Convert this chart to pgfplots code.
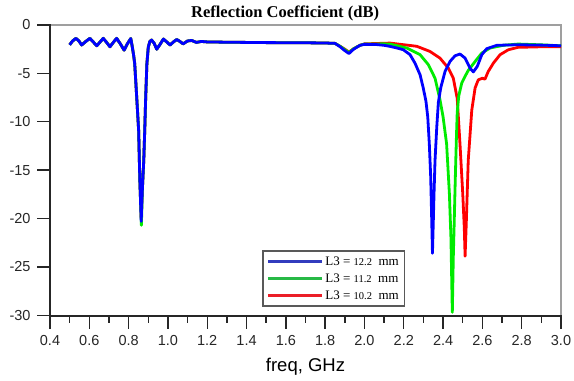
\documentclass[border=0pt]{standalone}
\usepackage{pgfplots}
\pgfplotsset{compat=1.18}
\usepackage{pgfplotstable}
\usetikzlibrary{calc}
\usepackage{fontspec}
\setmainfont{Liberation Sans}
\newfontfamily\timesfont{Liberation Serif}
\definecolor{cblue}{RGB}{0,0,255}
\definecolor{cgreen}{RGB}{0,235,0}
\definecolor{cred}{RGB}{255,0,0}
\definecolor{lblue}{RGB}{50,60,190}
\definecolor{lgreen}{RGB}{40,185,70}
\definecolor{lred}{RGB}{235,30,40}

\pgfplotstableread{
f s
0.500 -2.05
0.515 -1.65
0.532 -1.38
0.547 -1.65
0.561 -2.07
0.582 -1.70
0.603 -1.38
0.620 -1.75
0.638 -2.15
0.655 -1.75
0.671 -1.38
0.688 -1.80
0.705 -2.25
0.722 -1.80
0.739 -1.38
0.758 -1.95
0.777 -2.60
0.795 -1.90
0.811 -1.40
0.819 -2.30
0.826 -3.20
0.831 -4.00
0.841 -7.40
0.851 -10.9
0.857 -16.0
0.864 -20.0
0.870 -17.0
0.877 -14.0
0.882 -10.9
0.887 -7.40
0.893 -4.00
0.900 -2.30
0.908 -1.70
0.917 -1.55
0.930 -1.90
0.943 -2.50
0.960 -2.00
0.977 -1.45
0.994 -1.75
1.011 -2.07
1.028 -1.75
1.045 -1.50
1.061 -1.70
1.077 -1.95
1.100 -1.65
1.121 -1.60
1.145 -1.80
1.170 -1.70
1.200 -1.75
1.300 -1.78
1.400 -1.80
1.500 -1.82
1.600 -1.83
1.700 -1.84
1.800 -1.86
1.850 -1.90
1.876 -2.20
1.900 -2.50
1.921 -2.80
1.945 -2.45
1.977 -2.10
2.000 -1.95
2.130 -1.87
2.266 -2.20
2.333 -2.73
2.384 -3.42
2.427 -4.46
2.452 -5.50
2.472 -7.60
2.486 -12.3
2.500 -17.4
2.508 -21.0
2.512 -23.9
2.518 -20.5
2.528 -14.0
2.546 -8.80
2.563 -6.50
2.579 -5.67
2.600 -5.50
2.613 -5.60
2.630 -4.80
2.656 -3.94
2.690 -3.07
2.732 -2.56
2.781 -2.31
2.900 -2.25
3.000 -2.25
}\redtab

\pgfplotstableread{
f s
0.500 -2.05
0.515 -1.65
0.532 -1.38
0.547 -1.65
0.561 -2.07
0.582 -1.70
0.603 -1.38
0.620 -1.75
0.638 -2.15
0.655 -1.75
0.671 -1.38
0.688 -1.80
0.705 -2.25
0.722 -1.80
0.739 -1.38
0.758 -1.95
0.777 -2.60
0.795 -1.90
0.811 -1.40
0.819 -2.30
0.826 -3.20
0.831 -4.00
0.841 -7.40
0.851 -10.9
0.857 -16.0
0.865 -20.7
0.870 -17.0
0.877 -14.0
0.882 -10.9
0.887 -7.40
0.893 -4.00
0.900 -2.30
0.908 -1.70
0.917 -1.55
0.930 -1.90
0.943 -2.50
0.960 -2.00
0.977 -1.45
0.994 -1.75
1.011 -2.07
1.028 -1.75
1.045 -1.50
1.061 -1.70
1.077 -1.95
1.100 -1.65
1.121 -1.60
1.145 -1.80
1.170 -1.70
1.200 -1.75
1.300 -1.78
1.400 -1.80
1.500 -1.82
1.600 -1.83
1.700 -1.84
1.800 -1.86
1.850 -1.90
1.876 -2.20
1.900 -2.55
1.921 -2.85
1.945 -2.45
1.977 -2.10
2.000 -1.97
2.100 -1.95
2.130 -1.97
2.215 -2.38
2.283 -3.07
2.325 -4.10
2.359 -5.50
2.384 -7.70
2.400 -9.50
2.418 -12.3
2.432 -17.4
2.440 -22.0
2.447 -29.7
2.452 -24.0
2.456 -20.9
2.462 -16.0
2.468 -11.5
2.472 -9.00
2.480 -7.30
2.495 -6.00
2.512 -5.30
2.528 -4.70
2.563 -3.77
2.597 -2.90
2.639 -2.38
2.706 -2.10
2.781 -1.97
2.900 -2.05
3.000 -2.15
}\greentab

\pgfplotstableread{
f s
0.500 -2.05
0.515 -1.65
0.532 -1.38
0.547 -1.65
0.561 -2.07
0.582 -1.70
0.603 -1.38
0.620 -1.75
0.638 -2.15
0.655 -1.75
0.671 -1.38
0.688 -1.80
0.705 -2.25
0.722 -1.80
0.739 -1.38
0.758 -1.95
0.777 -2.60
0.795 -1.90
0.811 -1.40
0.819 -2.30
0.826 -3.20
0.831 -4.00
0.841 -7.40
0.851 -10.9
0.857 -16.0
0.864 -20.3
0.870 -17.0
0.877 -14.0
0.882 -10.9
0.887 -7.40
0.893 -4.00
0.900 -2.30
0.908 -1.70
0.917 -1.55
0.930 -1.90
0.943 -2.50
0.960 -2.00
0.977 -1.45
0.994 -1.75
1.011 -2.07
1.028 -1.75
1.045 -1.50
1.061 -1.70
1.077 -1.95
1.100 -1.65
1.121 -1.60
1.145 -1.80
1.170 -1.70
1.200 -1.75
1.300 -1.78
1.400 -1.80
1.500 -1.82
1.600 -1.83
1.700 -1.84
1.800 -1.86
1.850 -1.90
1.876 -2.25
1.900 -2.65
1.921 -2.95
1.945 -2.50
1.977 -2.10
2.000 -2.00
2.060 -2.02
2.100 -2.10
2.130 -2.21
2.170 -2.40
2.198 -2.56
2.232 -3.07
2.257 -3.94
2.283 -5.15
2.299 -6.50
2.313 -7.90
2.322 -9.50
2.330 -12.3
2.337 -15.7
2.342 -20.0
2.346 -23.6
2.350 -20.5
2.354 -17.4
2.359 -14.0
2.368 -10.5
2.376 -8.00
2.388 -6.50
2.410 -4.80
2.435 -3.77
2.461 -3.18
2.486 -3.00
2.512 -3.42
2.537 -4.46
2.554 -4.85
2.574 -4.28
2.597 -3.07
2.622 -2.45
2.673 -2.10
2.781 -2.04
2.900 -2.08
3.000 -2.15
}\bluetab

\begin{document}
\begin{tikzpicture}
\begin{axis}[
  scale only axis,
  width=511pt, height=291pt,
  xmin=0.4, xmax=3.0, ymin=-30.08, ymax=0,
  axis line style={gray!75, line width=1.3pt},
  xtick pos=left, ytick pos=left,
  xtick={0.4,0.6,0.8,1.0,1.2,1.4,1.6,1.8,2.0,2.2,2.4,2.6,2.8,3.0},
  xticklabels={0.4,0.6,0.8,1.0,1.2,1.4,1.6,1.8,2.0,2.2,2.4,2.6,2.8,3.0},
  ytick={-30,-25,-20,-15,-10,-5,0},
  yticklabels={-30,-25,-20,-15,-10,-5,0},
  major tick length=0pt, minor tick length=0pt,
  tick label style={font=\fontsize{14.5}{16}\selectfont, text=black!85},
  xticklabel style={anchor=base, yshift=-29pt},
  yticklabel style={anchor=east, xshift=-16pt},
  xlabel={freq, GHz},
  xlabel style={font=\fontsize{18.5}{20}\selectfont, at={(axis description cs:0.5,0)}, anchor=base, yshift=-55pt},
  title={\timesfont\bfseries Reflection Coefficient (dB)},
  title style={font=\fontsize{16.5}{18}\selectfont, at={(axis description cs:0.46,1)}, anchor=base, yshift=1.5pt},
  legend image code/.code={\draw[#1] (0pt,0pt) -- (54pt,0pt);},
  legend style={at={(axis description cs:0.4155,0.032)}, anchor=south west,
    draw=black!65, line width=1.2pt, fill=white,
    inner xsep=4pt, inner ysep=4pt, row sep=4pt,
    nodes={inner sep=1.5pt}},
  legend cell align=left,
]
\coordinate (O) at (rel axis cs:0,0);
\coordinate (T) at (rel axis cs:1,1);
\addlegendimage{lblue, line width=3pt}
\addlegendentry{\timesfont\fontsize{13}{15}\selectfont L\raisebox{-0.8pt}{3} = {\fontsize{10.5}{12}\selectfont 12.2}\ \ mm}
\addlegendimage{lgreen, line width=3pt}
\addlegendentry{\timesfont\fontsize{13}{15}\selectfont L\raisebox{-0.8pt}{3} = {\fontsize{10.5}{12}\selectfont 11.2}\ \ mm}
\addlegendimage{lred, line width=3pt}
\addlegendentry{\timesfont\fontsize{13}{15}\selectfont L\raisebox{-0.8pt}{3} = {\fontsize{10.5}{12}\selectfont 10.2}\ \ mm}
\addplot[cred, line width=2.8pt, line join=round, forget plot] table[x=f, y=s] {\redtab};
\addplot[cgreen, line width=2.8pt, line join=round, forget plot] table[x=f, y=s] {\greentab};
\addplot[cblue, line width=2.8pt, line join=round, forget plot] table[x=f, y=s] {\bluetab};
\end{axis}
% axis frame: dark left and bottom lines with outside tick marks
\draw[black!85, line width=1.3pt] ([yshift=0.6pt]T -| O) -- (O) -- ([xshift=0.6pt]O -| T);
\foreach \i in {0,...,13} {
  \draw[black!85, line width=1.4pt] ($(O)!\i/13!(O -| T)$) -- ++(0,-12.5pt);
}
\foreach \i in {0,...,12} {
  \draw[black!85, line width=1.4pt] ($(O)!\i/13+1/26!(O -| T)$) -- ++(0,-7pt);
}
\foreach \j in {0,...,6} {
  \draw[black!85, line width=1.4pt] ($([yshift=0.77pt]O)!\j/6!(T -| O)$) -- ++(-13pt,0);
}
\pgfresetboundingbox
\path[use as bounding box] ([shift={(-50pt,-64pt)}]O) rectangle ([shift={(13pt,25pt)}]T);
\end{tikzpicture}
\end{document}
